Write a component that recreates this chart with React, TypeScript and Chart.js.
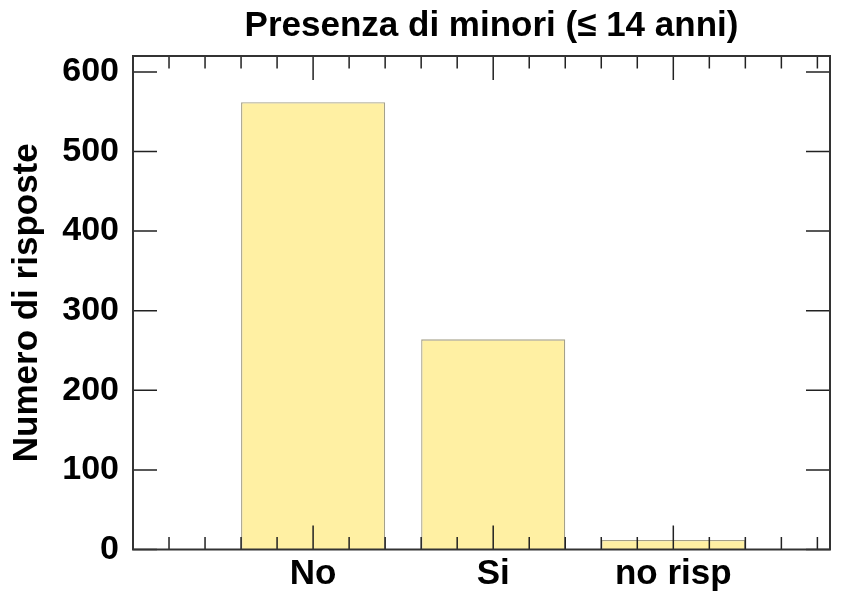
import React, { useEffect, useRef } from "react";
import { Chart, registerables } from "chart.js";

Chart.register(...registerables);

const TITLE = "Presenza di minori (≤ 14 anni)";
const Y_TITLE = "Numero di risposte";
const categories = ["No", "Si", "no risp"];
const values = [562, 264, 12];
const yTicks = [0, 100, 200, 300, 400, 500, 600];
const X_MIN = -1;
const X_MAX = 2.87;
const Y_MIN = 0;
const Y_MAX = 620;

const FONT = "'Liberation Sans', Arial, sans-serif";

const frameTicks = {
  id: "frameTicks",
  afterDatasetsDraw(chart: any) {
    const { ctx, chartArea } = chart;
    const { left, right, top, bottom } = chartArea;
    const x = chart.scales.x;
    const y = chart.scales.y;
    ctx.save();
    ctx.strokeStyle = "#222";
    ctx.lineWidth = 1.5;
    const major = 24;
    const minor = 12.5;
    ctx.beginPath();
    for (const v of yTicks) {
      const py = y.getPixelForValue(v);
      ctx.moveTo(left, py);
      ctx.lineTo(left + major, py);
      ctx.moveTo(right, py);
      ctx.lineTo(right - major, py);
    }
    for (let i = -4; i <= 14; i++) {
      const v = i / 5;
      if (v <= X_MIN || v >= X_MAX) continue;
      const px = x.getPixelForValue(v);
      const len = i % 5 === 0 ? major : minor;
      ctx.moveTo(px, top);
      ctx.lineTo(px, top + len);
      ctx.moveTo(px, bottom);
      ctx.lineTo(px, bottom - len);
    }
    ctx.stroke();
    ctx.strokeStyle = "#333";
    ctx.lineWidth = 2;
    ctx.strokeRect(left, top, right - left, bottom - top);
    // title, centred over the plot area
    ctx.fillStyle = "#000";
    ctx.font = `bold 35px ${FONT}`;
    ctx.textAlign = "center";
    ctx.textBaseline = "middle";
    ctx.fillText(TITLE, (left + right) / 2 + 10, 26);
    ctx.restore();
  },
};

export default function App() {
  const ref = useRef<HTMLCanvasElement | null>(null);
  useEffect(() => {
    if (!ref.current) return;
    const chart = new Chart(ref.current, {
      type: "bar",
      data: {
        datasets: [
          {
            data: values.map((v, i) => ({ x: i, y: v })),
            backgroundColor: "#FFF0A3",
            borderColor: "#A5A18A",
            borderWidth: 1.3,
            categoryPercentage: 0.8,
            barPercentage: 1.0,
          },
        ],
      },
      options: {
        animation: false,
        responsive: false,
        devicePixelRatio: 1,
        layout: { padding: { left: 0, right: 15, top: 56, bottom: 0 } },
        plugins: {
          legend: { display: false },
          tooltip: { enabled: false },
          title: { display: false },
        },
        scales: {
          x: {
            type: "linear",
            min: X_MIN,
            max: X_MAX,
            offset: false,
            grid: { display: false, drawTicks: false },
            border: { display: false },
            afterBuildTicks: (s: any) => {
              s.ticks = categories.map((_, i) => ({ value: i }));
            },
            afterFit: (s: any) => {
              s.height = 46.5;
            },
            ticks: {
              autoSkip: false,
              maxRotation: 0,
              padding: 4,
              color: "#000",
              font: { family: FONT, size: 35, weight: "bold" },
              callback: (v: any) => categories[Math.round(Number(v))] ?? "",
            },
          },
          y: {
            type: "linear",
            min: Y_MIN,
            max: Y_MAX,
            grid: { display: false, drawTicks: false },
            border: { display: false },
            afterBuildTicks: (s: any) => {
              s.ticks = yTicks.map((v) => ({ value: v }));
            },
            afterFit: (s: any) => {
              s.width = 133;
            },
            ticks: {
              padding: 14,
              color: "#000",
              font: { family: FONT, size: 34, weight: "bold" },
            },
            title: {
              display: true,
              text: Y_TITLE,
              color: "#000",
              font: { family: FONT, size: 35, weight: "bold", lineHeight: 1.2 },
              padding: { top: 6, bottom: 0 },
            },
          },
        },
      },
      plugins: [frameTicks],
    } as any);
    return () => chart.destroy();
  }, []);
  return (
    <div style={{ position: "absolute", left: 0, top: 0, width: 845, height: 596, background: "#fff" }}>
      <canvas ref={ref} width={845} height={596} style={{ width: 845, height: 596 }} />
    </div>
  );
}
